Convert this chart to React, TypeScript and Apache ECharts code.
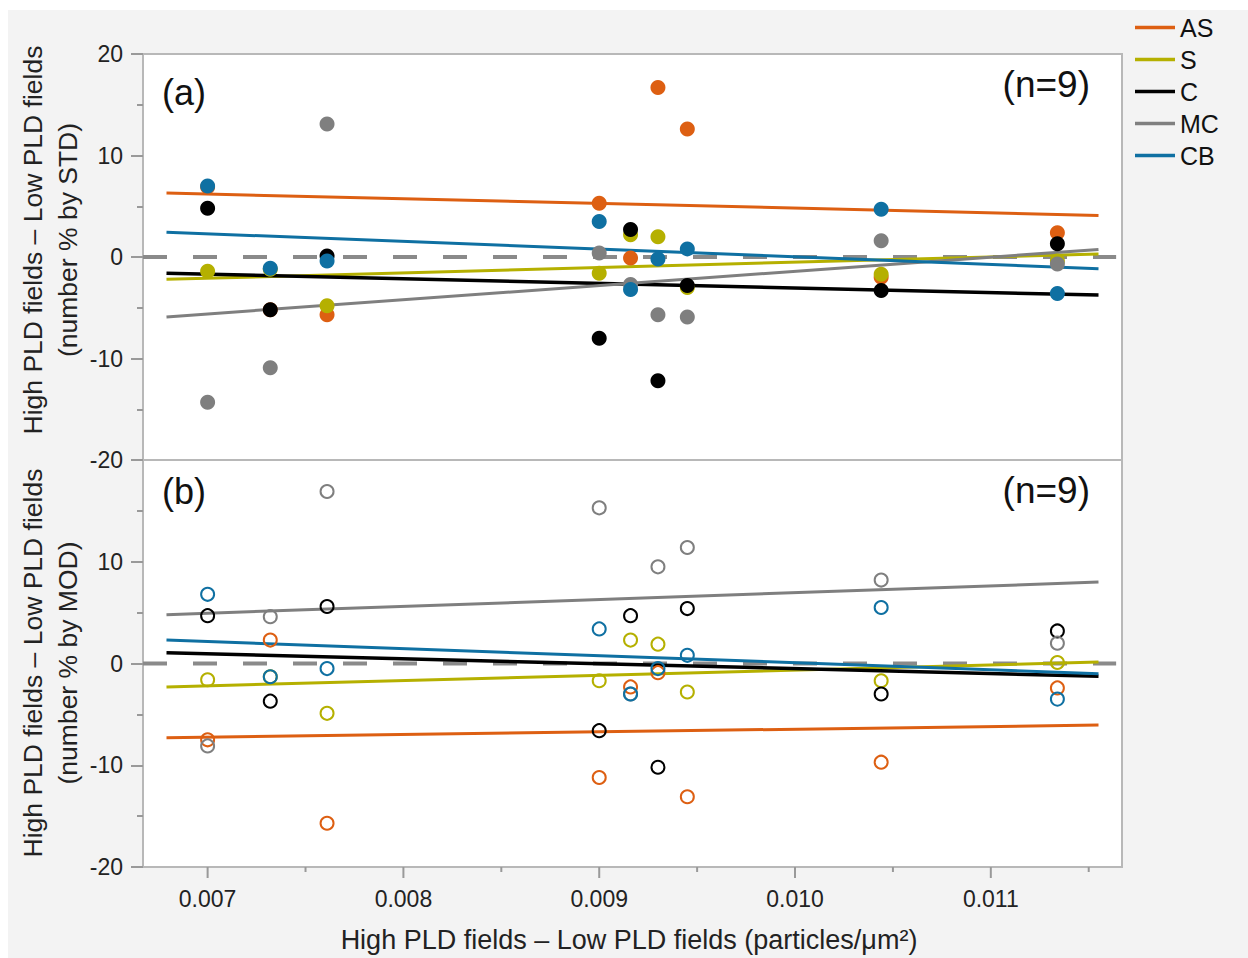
import React, { useEffect, useRef } from 'react';
import * as echarts from 'echarts';

// ---------- data ----------
const X_VALUES = [0.007, 0.00732, 0.00761, 0.009, 0.00916, 0.0093, 0.00945, 0.01044, 0.01134];
const GROUPS = ['AS', 'S', 'C', 'MC', 'CB'];
const COLORS = ['#dd5f12', '#b5b000', '#000000', '#7f7f7f', '#0f70a2'];

// panel (a): number % by STD (filled markers)
const STD_AS = [6.9, -5.2, -5.7, 5.3, -0.1, 16.7, 12.6, -2.0, 2.4];
const STD_S = [-1.4, -1.2, -4.8, -1.6, 2.2, 2.0, -3.0, -1.7, -0.4];
const STD_C = [4.8, -5.2, 0.1, -8.0, 2.7, -12.2, -2.8, -3.3, 1.3];
const STD_MC = [-14.3, -10.9, 13.1, 0.4, -2.7, -5.7, -5.9, 1.6, -0.7];
const STD_CB = [7.0, -1.1, -0.4, 3.5, -3.2, -0.2, 0.8, 4.7, -3.6];

// panel (b): number % by MOD (open markers)
const MOD_AS = [-7.5, 2.3, -15.7, -11.2, -2.3, -0.9, -13.1, -9.7, -2.4];
const MOD_S = [-1.6, -1.3, -4.9, -1.7, 2.3, 1.9, -2.8, -1.7, 0.1];
const MOD_C = [4.7, -3.7, 5.6, -6.6, 4.7, -10.2, 5.4, -3.0, 3.2];
const MOD_MC = [-8.1, 4.6, 16.9, 15.3, -3.0, 9.5, 11.4, 8.2, 2.0];
const MOD_CB = [6.8, -1.3, -0.5, 3.4, -3.0, -0.5, 0.8, 5.5, -3.5];

// fitted lines (end points)
const FIT_X = [0.00679, 0.01155];
const STD_FIT_AS = [6.3, 4.1];
const STD_FIT_S = [-2.2, 0.3];
const STD_FIT_C = [-1.6, -3.75];
const STD_FIT_MC = [-5.9, 0.75];
const STD_FIT_CB = [2.45, -1.15];
const MOD_FIT_AS = [-7.3, -6.05];
const MOD_FIT_S = [-2.3, 0.15];
const MOD_FIT_C = [1.05, -1.25];
const MOD_FIT_MC = [4.8, 8.0];
const MOD_FIT_CB = [2.3, -1.0];

const ZERO_LINE_X = [0.00667, 0.01164];
const X_MIN = 0.00667;
const X_MAX = 0.01167;
const X_TICKS = [0.007, 0.008, 0.009, 0.01, 0.011];
const X_MINOR_TICKS = [0.0075, 0.0085, 0.0095, 0.0105, 0.0115];
const Y_MIN = -20;
const Y_MAX = 20;
const Y_INTERVAL = 10;

const PANEL_LABELS = ['(a)', '(b)'];
const N_LABEL = '(n=9)';
const Y_TITLES = [
  ['High PLD fields \u2013 Low PLD fields', '(number % by STD)'],
  ['High PLD fields \u2013 Low PLD fields', '(number % by MOD)'],
];
const X_TITLE = 'High PLD fields \u2013 Low PLD fields (particles/\u03bcm\u00b2)';

const PANEL_VALUES = [
  [STD_AS, STD_S, STD_C, STD_MC, STD_CB],
  [MOD_AS, MOD_S, MOD_C, MOD_MC, MOD_CB],
];
const PANEL_FITS = [
  [STD_FIT_AS, STD_FIT_S, STD_FIT_C, STD_FIT_MC, STD_FIT_CB],
  [MOD_FIT_AS, MOD_FIT_S, MOD_FIT_C, MOD_FIT_MC, MOD_FIT_CB],
];

const FONT = "'Liberation Sans', Arial, Helvetica, sans-serif";
const TEXT = '#222';
const TICK_COLOR = '#999999';
const TICK_STYLE = { color: TICK_COLOR, width: 2 };

function xTickSeries(values: number[], len: number) {
  return {
    type: 'custom',
    xAxisIndex: 1,
    yAxisIndex: 1,
    silent: true,
    clip: false,
    z: 6,
    data: values.map((v) => [v, Y_MIN]),
    encode: { x: 0, y: 1 },
    renderItem: (_params: any, api: any) => {
      const pt = api.coord([api.value(0), api.value(1)]);
      return {
        type: 'line',
        shape: { x1: pt[0], y1: pt[1], x2: pt[0], y2: pt[1] + len },
        style: { stroke: TICK_COLOR, lineWidth: 2 },
      };
    },
  };
}

function buildOption(): any {
  const gridBoxes = [
    { left: 143, top: 54, width: 979, height: 406 },
    { left: 143, top: 460, width: 979, height: 407 },
  ];
  const grid = gridBoxes.map((g) => ({
    ...g,
    show: true,
    backgroundColor: '#ffffff',
    borderColor: '#b8b8b8',
    borderWidth: 2,
  }));

  const xAxis: any[] = [
    { gridIndex: 0, type: 'value', min: X_MIN, max: X_MAX, show: false },
    {
      gridIndex: 1,
      type: 'value',
      position: 'bottom',
      min: X_MIN,
      max: X_MAX,
      axisLine: { show: false, onZero: false },
      splitLine: { show: false },
      axisTick: { show: false },
      axisLabel: {
        customValues: X_TICKS,
        formatter: (v: number) => v.toFixed(3),
        fontSize: 23,
        color: TEXT,
        margin: 20,
        fontFamily: FONT,
      },
    },
  ];

  const yAxis = [0, 1].map((p) => ({
    gridIndex: p,
    type: 'value',
    position: 'left',
    min: Y_MIN,
    max: Y_MAX,
    interval: Y_INTERVAL,
    axisLine: { show: false },
    splitLine: { show: false },
    axisTick: { show: true, inside: false, length: 12, lineStyle: TICK_STYLE },
    minorTick: { show: true, splitNumber: 2, length: 6, lineStyle: TICK_STYLE },
    axisLabel: {
      fontSize: 23,
      color: TEXT,
      margin: 20,
      fontFamily: FONT,
      formatter: (v: number) => (p === 1 && v === Y_MAX ? '' : String(v)),
    },
  }));

  const series: any[] = [];
  // fit lines first (so legend takes their colour), drawn under markers
  [0, 1].forEach((p) => {
    GROUPS.forEach((name, g) => {
      series.push({
        name,
        type: 'line',
        xAxisIndex: p === 0 ? 0 : 1,
        yAxisIndex: p,
        data: FIT_X.map((x, i) => [x, PANEL_FITS[p][g][i]]),
        symbol: 'none',
        silent: true,
        z: 3,
        itemStyle: { color: COLORS[g] },
        lineStyle: { color: COLORS[g], width: name === 'C' ? 3.5 : 3 },
      });
    });
    // zero reference line
    series.push({
      name: 'zero' + p,
      type: 'line',
      xAxisIndex: p === 0 ? 0 : 1,
      yAxisIndex: p,
      data: ZERO_LINE_X.map((x) => [x, 0]),
      symbol: 'none',
      silent: true,
      z: 2,
      lineStyle: { color: '#8a8a8a', width: 4, type: [24, 26] },
    });
  });
  [0, 1].forEach((p) => {
    GROUPS.forEach((name, g) => {
      series.push({
        name,
        type: 'scatter',
        xAxisIndex: p === 0 ? 0 : 1,
        yAxisIndex: p,
        data: X_VALUES.map((x, i) => [x, PANEL_VALUES[p][g][i]]),
        symbol: 'circle',
        symbolSize: p === 0 ? 15 : 13,
        z: 4,
        silent: true,
        itemStyle:
          p === 0
            ? { color: COLORS[g], opacity: 1 }
            : { color: 'rgba(255,255,255,0)', borderColor: COLORS[g], borderWidth: 2, opacity: 1 },
      });
    });
  });
  series.push(xTickSeries(X_TICKS, 11));
  series.push(xTickSeries(X_MINOR_TICKS, 5));

  const graphic: any[] = [
    { type: 'rect', shape: { x: 0, y: 0, width: 1248, height: 10 }, style: { fill: '#ffffff' }, silent: true },
    { type: 'rect', shape: { x: 0, y: 0, width: 8, height: 958 }, style: { fill: '#ffffff' }, silent: true },
  ];
  const panelCenters = [240, 663];
  const labelY = [
    [92, 84],
    [491, 490],
  ];
  [0, 1].forEach((p) => {
    graphic.push({
      type: 'text',
      x: 162,
      y: labelY[p][0],
      style: { text: PANEL_LABELS[p], font: `36px ${FONT}`, fill: '#111', textAlign: 'left', textVerticalAlign: 'middle' },
      z: 10,
    });
    graphic.push({
      type: 'text',
      x: 1090,
      y: labelY[p][1],
      style: { text: N_LABEL, font: `37px ${FONT}`, fill: '#111', textAlign: 'right', textVerticalAlign: 'middle' },
      z: 10,
    });
    Y_TITLES[p].forEach((t, k) => {
      graphic.push({
        type: 'text',
        x: k === 0 ? 33 : 68,
        y: panelCenters[p],
        rotation: Math.PI / 2,
        style: { text: t, font: `26.5px ${FONT}`, fill: TEXT, textAlign: 'center', textVerticalAlign: 'middle' },
        z: 10,
      });
    });
  });
  graphic.push({
    type: 'text',
    x: 629,
    y: 940,
    style: { text: X_TITLE, font: `27px ${FONT}`, fill: TEXT, textAlign: 'center', textVerticalAlign: 'middle' },
    z: 10,
  });

  return {
    animation: false,
    backgroundColor: '#f3f3f3',
    grid,
    xAxis,
    yAxis,
    legend: {
      data: GROUPS.map((n) => ({ name: n, icon: 'rect' })),
      orient: 'vertical',
      left: 1135,
      top: 15,
      padding: 0,
      itemWidth: 40,
      itemHeight: 3.5,
      itemGap: 7,
      selectedMode: false,
      textStyle: { fontSize: 25, color: '#111', fontFamily: FONT },
    },
    series,
    graphic,
  };
}

export default function App() {
  const ref = useRef<HTMLDivElement>(null);
  useEffect(() => {
    if (!ref.current) return;
    const chart = echarts.init(ref.current, undefined, { renderer: 'svg' });
    chart.setOption(buildOption());
    return () => chart.dispose();
  }, []);
  return (
    <div
      ref={ref}
      style={{ position: 'absolute', left: 0, top: 0, width: 1248, height: 958 }}
    />
  );
}
